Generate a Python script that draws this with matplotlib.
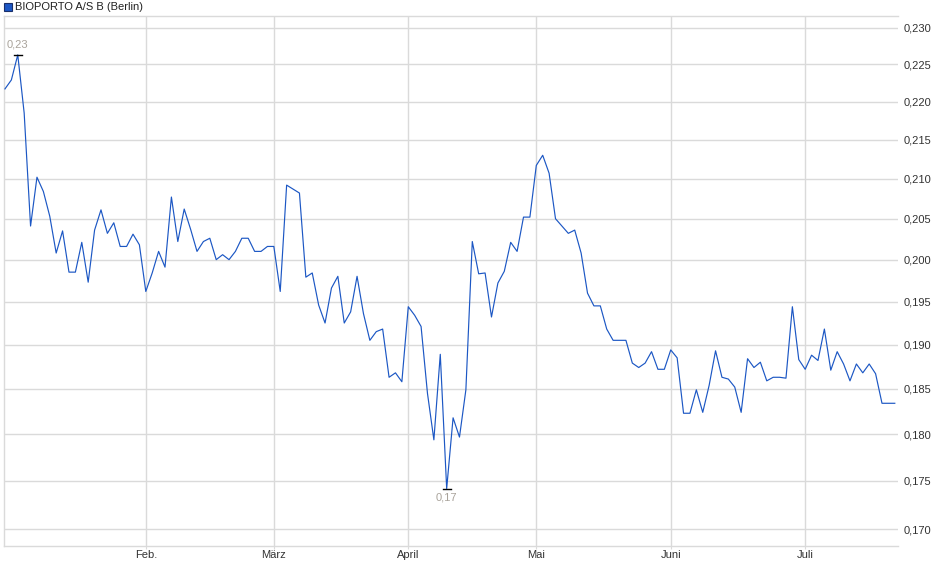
import matplotlib
matplotlib.use("Agg")
import matplotlib.pyplot as plt
from matplotlib.patches import Rectangle
from matplotlib.ticker import FixedLocator, FuncFormatter, NullLocator

plt.rcParams['font.family'] = ['Liberation Sans', 'DejaVu Sans']

# daily closing prices (trading days, Jan - Jul)
prices = [
    0.2217, 0.2229, 0.2263, 0.2185, 0.2041, 0.2102, 0.2084, 0.2053, 0.2008, 0.2035,
    0.1985, 0.1985, 0.2021, 0.1973, 0.2036, 0.2061, 0.2032, 0.2045, 0.2016, 0.2016,
    0.2031, 0.2018, 0.1962, 0.1984, 0.2010, 0.1991, 0.2077, 0.2022, 0.2062, 0.2037,
    0.2010, 0.2022, 0.2026, 0.2000, 0.2006, 0.2000, 0.2010, 0.2026, 0.2026, 0.2010,
    0.2010, 0.2016, 0.2016, 0.1962, 0.2092, 0.2087, 0.2082, 0.1979, 0.1984, 0.1946,
    0.1925, 0.1966, 0.1980, 0.1925, 0.1938, 0.1980, 0.1936, 0.1905, 0.1915, 0.1918,
    0.1863, 0.1868, 0.1858, 0.1944, 0.1934, 0.1921, 0.1845, 0.1794, 0.1889, 0.1742,
    0.1818, 0.1797, 0.1849, 0.2022, 0.1983, 0.1984, 0.1932, 0.1972, 0.1986, 0.2021,
    0.2010, 0.2052, 0.2052, 0.2117, 0.2130, 0.2107, 0.2050, 0.2041, 0.2032, 0.2036,
    0.2008, 0.1960, 0.1945, 0.1945, 0.1918, 0.1905, 0.1905, 0.1905, 0.1879, 0.1874,
    0.1879, 0.1892, 0.1872, 0.1872, 0.1894, 0.1885, 0.1823, 0.1823, 0.1849, 0.1824,
    0.1854, 0.1893, 0.1863, 0.1861, 0.1852, 0.1824, 0.1884, 0.1874, 0.1880, 0.1859,
    0.1863, 0.1863, 0.1862, 0.1944, 0.1883, 0.1872, 0.1888, 0.1882, 0.1918, 0.1871,
    0.1892, 0.1878, 0.1859, 0.1878, 0.1868, 0.1878, 0.1867, 0.1834, 0.1834, 0.1834,
]
month_pos = [22, 42, 63, 83, 104, 125]
month_labels = ['Feb.', 'März', 'April', 'Mai', 'Juni', 'Juli']
y_ticks = [0.170, 0.175, 0.180, 0.185, 0.190, 0.195, 0.200, 0.205, 0.210,
           0.215, 0.220, 0.225, 0.230]
title = 'BIOPORTO A/S B (Berlin)'

W, H = 940, 579
fig = plt.figure(figsize=(W / 100, H / 100), dpi=100)
ax = fig.add_axes([4 / W, 1 - 546 / H, 894 / W, 530 / H])

grid_c = '#dadada'
line_c = '#1c57c4'

x = list(range(len(prices)))
ax.plot(x, prices, color=line_c, lw=0.85, zorder=3)

ax.set_yscale('log')
ax.set_ylim(0.16827, 0.23167)
ax.set_xlim(-0.15, 139.5)

ax.yaxis.set_major_locator(FixedLocator(y_ticks))
ax.yaxis.set_minor_locator(NullLocator())
ax.yaxis.set_major_formatter(FuncFormatter(lambda v, p: ('%.3f' % v).replace('.', ',')))
ax.yaxis.tick_right()
ax.tick_params(axis='y', length=0, pad=4, labelsize=8, labelcolor='#333333')

ax.set_xticks(month_pos)
ax.set_xticklabels(month_labels)
ax.xaxis.set_minor_locator(NullLocator())
ax.tick_params(axis='x', length=2, color=grid_c, pad=1, labelsize=8, labelcolor='#333333')

ax.grid(True, color=grid_c, lw=1.0, zorder=0)
for s in ['left', 'top', 'bottom']:
    ax.spines[s].set_color(grid_c)
    ax.spines[s].set_linewidth(1.0)
ax.spines['right'].set_visible(False)

# high / low markers
imax = prices.index(max(prices))
imin = prices.index(min(prices))
ax.plot([imax - 0.6, imax + 0.6], [prices[imax]] * 2, color='black', lw=1.0, zorder=4)
ax.plot([imin - 0.6, imin + 0.6], [prices[imin]] * 2, color='black', lw=1.0, zorder=4)
ax.annotate(('%.2f' % max(prices)).replace('.', ','), (imax, prices[imax]),
            xytext=(0, 4), textcoords='offset points', ha='center', va='bottom',
            fontsize=8, color='#a9a39b')
ax.annotate(('%.2f' % min(prices)).replace('.', ','), (imin, prices[imin]),
            xytext=(0, -3), textcoords='offset points', ha='center', va='top',
            fontsize=8, color='#a9a39b')

# legend box
fig.patches.append(Rectangle((4 / W, 1 - 11 / H), 8 / W, 8 / H, transform=fig.transFigure,
                             facecolor=line_c, edgecolor='#1a2f6a', lw=0.8))
fig.text(15 / W, 1 - 7 / H, title, fontsize=8, color='#222222', va='center', ha='left')

fig.savefig('out.png', dpi=100)
